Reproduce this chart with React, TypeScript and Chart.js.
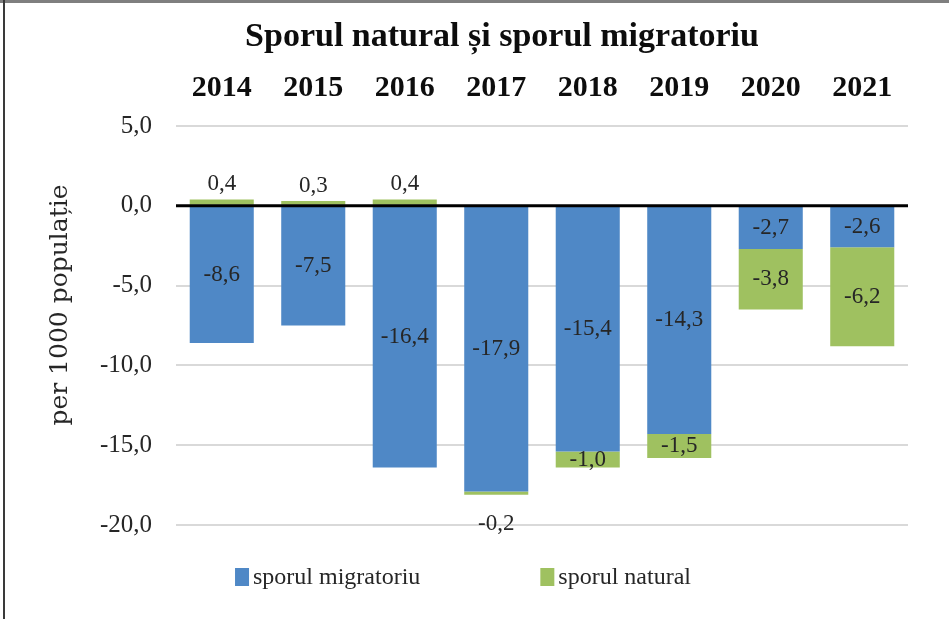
import React, { useEffect, useRef } from "react";
import { Chart, registerables } from "chart.js";

Chart.register(...registerables);

const categories = ["2014", "2015", "2016", "2017", "2018", "2019", "2020", "2021"];
const sporulMigratoriu = [-8.6, -7.5, -16.4, -17.9, -15.4, -14.3, -2.7, -2.6];
const sporulNatural = [0.4, 0.3, 0.4, -0.2, -1.0, -1.5, -3.8, -6.2];
const seriesNames = ["sporul migratoriu", "sporul natural"];
const seriesColors = ["#4F88C6", "#9FC160"];
const titleText = "Sporul natural și sporul migratoriu";
const yTitleText = "per 1000 populație";

const fmt = (v: number) => v.toFixed(1).replace(".", ",");

const labelPlugin = {
  id: "customLabels",
  afterDatasetsDraw(chart: any) {
    const { ctx, chartArea, scales } = chart;
    // zero line
    const y0 = scales.y.getPixelForValue(0);
    ctx.save();
    ctx.strokeStyle = "#000000";
    ctx.lineWidth = 3;
    ctx.beginPath();
    ctx.moveTo(chartArea.left, y0);
    ctx.lineTo(chartArea.right, y0);
    ctx.stroke();
    ctx.restore();

    ctx.save();
    ctx.font = "23px 'Liberation Serif'";
    ctx.fillStyle = "#262626";
    ctx.textAlign = "center";
    ctx.textBaseline = "middle";
    chart.data.datasets.forEach((ds: any, di: number) => {
      const meta = chart.getDatasetMeta(di);
      meta.data.forEach((el: any, i: number) => {
        const v = ds.data[i];
        const { x, y, base } = el.getProps(["x", "y", "base"], true);
        let ly = (y + base) / 2;
        if (di === 1 && Math.abs(v) < 0.5) {
          if (v > 0) ly = Math.min(y, base) - 15;
          else ly = Math.max(y, base) + 29;
        }
        ctx.fillText(fmt(v), x, ly);
      });
    });
    ctx.restore();
  },
  afterDraw(chart: any) {
    const { ctx } = chart;
    // title
    ctx.save();
    ctx.font = "bold 34px 'Liberation Serif'";
    ctx.fillStyle = "#0d0d0d";
    ctx.textAlign = "center";
    ctx.textBaseline = "alphabetic";
    ctx.fillText(titleText, 502, 46);
    ctx.restore();

    // y axis title
    ctx.save();
    ctx.translate(60, 305);
    ctx.rotate(-Math.PI / 2);
    ctx.font = "25px 'DejaVu Serif'";
    ctx.fillStyle = "#262626";
    ctx.textAlign = "center";
    ctx.textBaseline = "middle";
    ctx.fillText(yTitleText, 0, 0);
    ctx.restore();

    // legend
    ctx.save();
    ctx.font = "24px 'Liberation Serif'";
    ctx.textBaseline = "middle";
    const cy = 577;
    const boxW = 14;
    const boxH = 18;
    const gapText = 4;
    const gapItems = 120;
    const widths = seriesNames.map((n) => boxW + gapText + ctx.measureText(n).width);
    const total = widths.reduce((a, b) => a + b, 0) + gapItems * (widths.length - 1);
    let x = 463 - total / 2;
    seriesNames.forEach((n, i) => {
      ctx.fillStyle = seriesColors[i];
      ctx.fillRect(x, cy - boxH / 2, boxW, boxH);
      ctx.fillStyle = "#262626";
      ctx.textAlign = "left";
      ctx.fillText(n, x + boxW + gapText, cy + 1);
      x += widths[i] + gapItems;
    });
    ctx.restore();
  },
};

export default function App() {
  const ref = useRef<HTMLCanvasElement>(null);
  useEffect(() => {
    if (!ref.current) return;
    const chart = new Chart(ref.current, {
      type: "bar",
      data: {
        labels: categories,
        datasets: [
          {
            label: seriesNames[0],
            data: sporulMigratoriu,
            backgroundColor: seriesColors[0],
            barPercentage: 0.7,
            categoryPercentage: 1,
          },
          {
            label: seriesNames[1],
            data: sporulNatural,
            backgroundColor: seriesColors[1],
            barPercentage: 0.7,
            categoryPercentage: 1,
          },
        ],
      },
      options: {
        animation: false,
        responsive: false,
        devicePixelRatio: 1,
        layout: { padding: { left: 0, right: 41, top: 0, bottom: 94 } },
        plugins: {
          legend: { display: false },
          tooltip: { enabled: false },
          title: { display: false },
        },
        scales: {
          x: {
            position: "top",
            stacked: true,
            grid: { display: false, drawTicks: false },
            border: { display: false },
            ticks: {
              color: "#0d0d0d",
              padding: 20,
              font: { family: "'Liberation Serif'", size: 30, weight: "bold", lineHeight: 1.2 },
            },
            afterFit(scale: any) {
              scale.height = 126;
            },
          },
          y: {
            stacked: true,
            min: -20,
            max: 5,
            ticks: {
              stepSize: 5,
              color: "#262626",
              padding: 24,
              font: { family: "'Liberation Serif'", size: 25 },
              callback: (v: any) => fmt(Number(v)),
            },
            grid: {
              drawTicks: false,
              lineWidth: 2,
              color: (c: any) => (c.tick && c.tick.value === 0 ? "rgba(0,0,0,0)" : "#d9d9d9"),
            },
            border: { display: false },
            afterFit(scale: any) {
              scale.width = 176;
            },
          },
        },
      },
      plugins: [labelPlugin],
    });
    return () => chart.destroy();
  }, []);

  return (
    <div style={{ position: "fixed", left: 0, top: 0, width: 949, height: 619, background: "#fff" }}>
      <canvas ref={ref} width={949} height={619} style={{ display: "block" }} />
      <div style={{ position: "absolute", left: 0, top: 0, width: 949, height: 3, background: "#7f7f7f" }} />
      <div style={{ position: "absolute", left: 3, top: 0, width: 2, height: 619, background: "#3a3a3a" }} />
    </div>
  );
}
